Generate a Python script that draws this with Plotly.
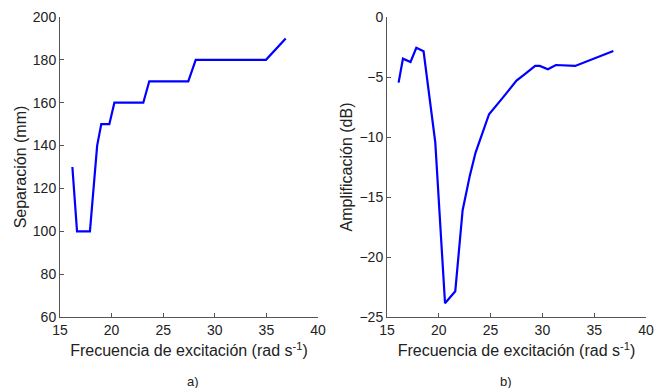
import plotly.graph_objects as go

# Panel a): separation vs excitation frequency
freq_sep = [16.2, 16.65, 17.9, 18.6, 19.0, 19.78, 20.27, 23.07, 23.65, 27.43, 28.15, 34.96, 36.87]
separacion = [130, 100, 100, 140, 150, 150, 160, 160, 170, 170, 180, 180, 190]

# Panel b): amplification vs excitation frequency
freq_amp = [16.12, 16.54, 17.27, 17.83, 18.53, 19.66, 20.6, 21.59, 22.3, 23.0, 23.55,
            24.85, 26.2, 27.5, 28.4, 29.3, 29.75, 30.53, 31.3, 33.16, 36.85]
amplificacion = [-5.47, -3.47, -3.75, -2.56, -2.86, -10.45, -23.85, -22.85, -16.1, -13.2, -11.3,
                 -8.1, -6.7, -5.3, -4.7, -4.08, -4.08, -4.36, -4.0, -4.08, -2.83]

x_ticks = [15, 20, 25, 30, 35, 40]
sep_ticks = [60, 80, 100, 120, 140, 160, 180, 200]
amp_ticks = [-25, -20, -15, -10, -5, 0]

W, H = 654, 388
TOP, BOTTOM = 17, 317
FONT = "Liberation Sans"
LINE = dict(color="#0000ff", width=2.2)

fig = go.Figure()
fig.add_trace(go.Scatter(x=freq_sep, y=separacion, mode="lines", line=LINE,
                         xaxis="x", yaxis="y", showlegend=False))
fig.add_trace(go.Scatter(x=freq_amp, y=amplificacion, mode="lines", line=LINE,
                         xaxis="x2", yaxis="y2", showlegend=False))

axis_common = dict(
    showgrid=False, zeroline=False, showline=True, linecolor="#555555", linewidth=1,
    ticks="inside", ticklen=4, tickcolor="#555555", mirror=False, automargin=False,
    tickfont=dict(family=FONT, size=14, color="#222222"),
    title_font=dict(family=FONT, size=16, color="#222222"),
)

xtitle = "Frecuencia de excitación (rad s<sup>-1</sup>)"

# panel captions sit below the axes, in paper units relative to the plot area
cap_y = (BOTTOM - 381) / (BOTTOM - TOP)

fig.update_layout(
    width=W, height=H,
    margin=dict(l=0, r=0, t=TOP, b=H - BOTTOM),
    paper_bgcolor="white", plot_bgcolor="white",
    xaxis=dict(domain=[60 / W, 318 / W], range=[15, 40], tickvals=x_ticks,
               title=dict(text=xtitle, standoff=8), anchor="y", **axis_common),
    yaxis=dict(domain=[0, 1], range=[60, 200], tickvals=sep_ticks,
               title=dict(text="Separación (mm)", standoff=2), anchor="x", **axis_common),
    xaxis2=dict(domain=[387 / W, 646 / W], range=[15, 40], tickvals=x_ticks,
                title=dict(text=xtitle, standoff=8), anchor="y2", **axis_common),
    yaxis2=dict(domain=[0, 1], range=[-25, 0], tickvals=amp_ticks,
                title=dict(text="Amplificación (dB)", standoff=2), anchor="x2", **axis_common),
    annotations=[
        dict(text="a)", x=185 / W, y=cap_y, xref="paper", yref="paper",
             showarrow=False, yanchor="middle", font=dict(family=FONT, size=13, color="#222222")),
        dict(text="b)", x=514 / W, y=cap_y, xref="paper", yref="paper",
             showarrow=False, yanchor="middle", font=dict(family=FONT, size=13, color="#222222")),
    ],
)

fig.write_html("out.html")
